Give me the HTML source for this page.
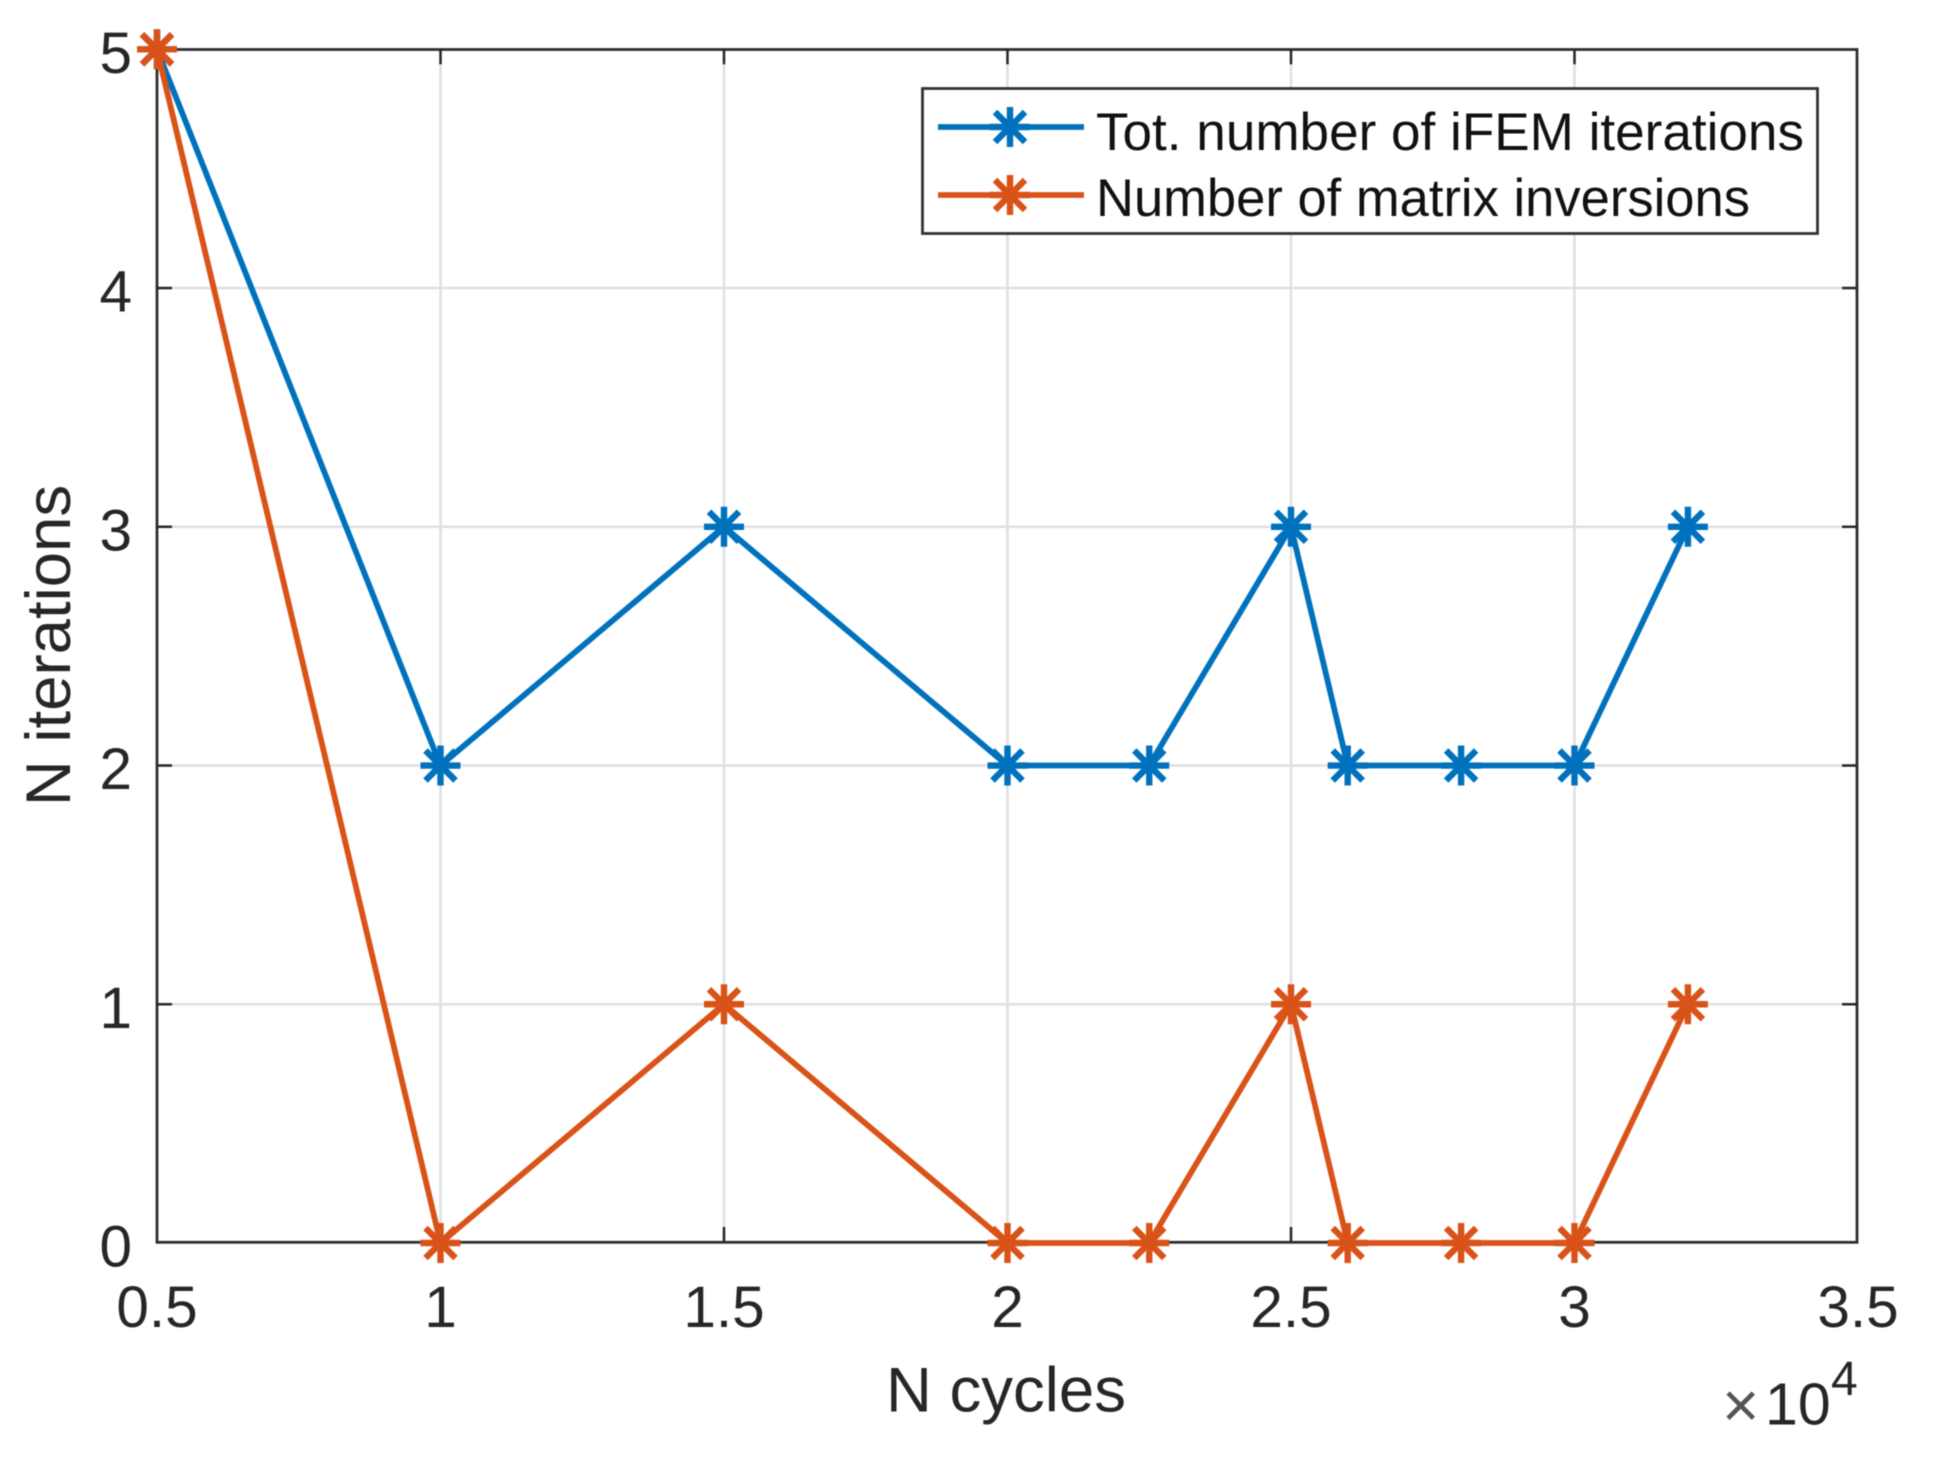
<!DOCTYPE html>
<html lang="en">
<head>
<meta charset="utf-8">
<title>N iterations vs N cycles</title>
<style>
  html, body { margin: 0; padding: 0; background: #ffffff; }
  svg { display: block; font-family: "Liberation Sans", sans-serif; filter: blur(0.6px); }
</style>
</head>
<body>
<svg id="chart" xmlns="http://www.w3.org/2000/svg" width="1935" height="1469" viewBox="0 0 1935 1469">
  <rect x="0" y="0" width="1935" height="1469" fill="#ffffff"/>
  <g id="grid"></g>
  <rect x="157" y="49.5" width="1700" height="1192.8" fill="none" stroke="#2e2e2e" stroke-width="2.8"/>
  <g id="ticks"></g>
  <g id="tick-labels"></g>
  <text x="1006" y="1411.5" font-size="63.5" fill="#262626" text-anchor="middle">N cycles</text>
  <text transform="translate(70 645.5) rotate(-90)" font-size="63.5" fill="#262626" text-anchor="middle">N iterations</text>
  <g>
    <text x="1722" y="1427" font-size="64" fill="#555555">×</text>
    <text x="1765" y="1424.5" font-size="59" fill="#262626">10</text>
    <text x="1831" y="1395" font-size="48" fill="#262626">4</text>
  </g>
  <g id="series"></g>
  <g>
    <rect x="922.5" y="88.5" width="895" height="145" fill="#ffffff" stroke="#333333" stroke-width="2.8"/>
    <g id="legend-keys"></g>
    <text x="1096" y="150" font-size="53" fill="#111111" textLength="708" lengthAdjust="spacingAndGlyphs">Tot. number of iFEM iterations</text>
    <text x="1096" y="216" font-size="53" fill="#111111" textLength="654" lengthAdjust="spacingAndGlyphs">Number of matrix inversions</text>
  </g>
</svg>
<script>
const nCycles = [5000, 10000, 15000, 20000, 22500, 25000, 26000, 28000, 30000, 32000];
const totalIterations = [5, 2, 3, 2, 2, 3, 2, 2, 2, 3];
const matrixInversions = [5, 0, 1, 0, 0, 1, 0, 0, 0, 1];
const xTicks = [5000, 10000, 15000, 20000, 25000, 30000, 35000];
const xTickLabels = ['0.5', '1', '1.5', '2', '2.5', '3', '3.5'];
const yTicks = [0, 1, 2, 3, 4, 5];
const yTickLabels = ['0', '1', '2', '3', '4', '5'];

const NS = 'http://www.w3.org/2000/svg';
const plot = { left: 157, right: 1858, top: 49.3, bottom: 1243 };
const xDomain = [5000, 35000];
const yDomain = [0, 5];
const blue = '#0072BD';
const orange = '#D95319';

function xScale(v) {
  return plot.left + (v - xDomain[0]) / (xDomain[1] - xDomain[0]) * (plot.right - plot.left);
}
function yScale(v) {
  return plot.bottom - (v - yDomain[0]) / (yDomain[1] - yDomain[0]) * (plot.bottom - plot.top);
}
function make(tag, parent) {
  const el = document.createElementNS(NS, tag);
  parent.appendChild(el);
  return el;
}
function setLine(el, x1, y1, x2, y2, stroke, width) {
  el.setAttribute('x1', x1);
  el.setAttribute('y1', y1);
  el.setAttribute('x2', x2);
  el.setAttribute('y2', y2);
  el.setAttribute('stroke', stroke);
  el.setAttribute('stroke-width', width);
}
function starPath(cx, cy) {
  const r = 20;
  const d = 15;
  return 'M' + (cx - r) + ' ' + cy + 'H' + (cx + r) +
    'M' + cx + ' ' + (cy - r) + 'V' + (cy + r) +
    'M' + (cx - d) + ' ' + (cy - d) + 'L' + (cx + d) + ' ' + (cy + d) +
    'M' + (cx - d) + ' ' + (cy + d) + 'L' + (cx + d) + ' ' + (cy - d);
}

const gridGroup = document.getElementById('grid');
const tickGroup = document.getElementById('ticks');
const labelGroup = document.getElementById('tick-labels');

xTicks.forEach(function (v, i) {
  const x = xScale(v);
  if (i > 0 && i < xTicks.length - 1) {
    const g = make('line', gridGroup);
    
    
    setLine(g, x, plot.top, x, plot.bottom - 1, '#e0e0e0', 2.5);
    const t1 = make('line', tickGroup);
    
    
    setLine(t1, x, plot.bottom - 1, x, plot.bottom - 16, '#262626', 2.5);
    const t2 = make('line', tickGroup);
    
    
    setLine(t2, x, plot.top, x, plot.top + 15, '#262626', 2.5);
  }
  const label = make('text', labelGroup);
  
  
  label.setAttribute('x', x);
  label.setAttribute('y', 1327);
  label.setAttribute('font-size', 58.5);
  label.setAttribute('fill', '#262626');
  label.setAttribute('text-anchor', 'middle');
  label.textContent = xTickLabels[i];
});

yTicks.forEach(function (v, i) {
  const y = yScale(v);
  if (i > 0 && i < yTicks.length - 1) {
    const g = make('line', gridGroup);
    
    
    setLine(g, plot.left, y, plot.right - 1, y, '#e0e0e0', 2.5);
    const t1 = make('line', tickGroup);
    
    
    setLine(t1, plot.left, y, plot.left + 15, y, '#262626', 2.5);
    const t2 = make('line', tickGroup);
    
    
    setLine(t2, plot.right - 1, y, plot.right - 16, y, '#262626', 2.5);
  }
  const label = make('text', labelGroup);
  
  
  label.setAttribute('x', 132);
  label.setAttribute('y', y + 23.5);
  label.setAttribute('font-size', 58.5);
  label.setAttribute('fill', '#262626');
  label.setAttribute('text-anchor', 'end');
  label.textContent = yTickLabels[i];
});

function drawSeries(values, color, seriesName) {
  const group = make('g', document.getElementById('series'));
  
  
  const line = make('polyline', group);
  
  
  line.setAttribute('fill', 'none');
  line.setAttribute('stroke', color);
  line.setAttribute('stroke-width', 5.8);
  line.setAttribute('stroke-linejoin', 'round');
  line.setAttribute('points', values.map(function (v, i) {
    return xScale(nCycles[i]) + ',' + yScale(v);
  }).join(' '));
  values.forEach(function (v, i) {
    const marker = make('path', group);
    
    
    marker.setAttribute('d', starPath(xScale(nCycles[i]), yScale(v)));
    marker.setAttribute('fill', 'none');
    marker.setAttribute('stroke', color);
    marker.setAttribute('stroke-width', 6.4);
  });
}
drawSeries(totalIterations, blue, 'total-iterations-series');
drawSeries(matrixInversions, orange, 'matrix-inversions-series');

function drawLegendKey(y, color, keyName) {
  const keys = document.getElementById('legend-keys');
  const line = make('line', keys);
  
  
  setLine(line, 938, y, 1084, y, color, 5.8);
  const marker = make('path', keys);
  
  
  marker.setAttribute('d', starPath(1010, y));
  marker.setAttribute('fill', 'none');
  marker.setAttribute('stroke', color);
  marker.setAttribute('stroke-width', 6.4);
}
drawLegendKey(127, blue, 'legend-key-total-iterations');
drawLegendKey(195, orange, 'legend-key-matrix-inversions');
</script>
</body>
</html>
